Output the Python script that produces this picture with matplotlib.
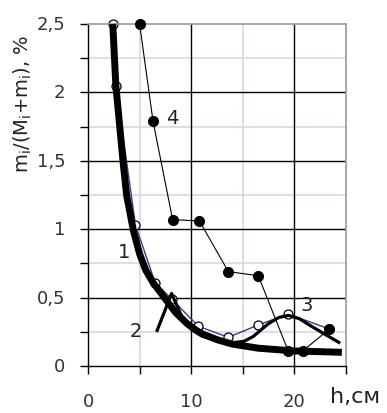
import matplotlib
matplotlib.use("Agg")
import matplotlib.pyplot as plt
from matplotlib.ticker import MultipleLocator

plt.rcParams['font.family'] = ['DejaVu Sans']

# Curve 1 (thick)
c1_x = [2.4, 2.7, 3.1, 3.4, 3.75, 4.4, 5.0, 5.6, 6.3, 7.0, 7.6, 8.5, 9.6, 10.5, 11.2, 12.6, 14.0, 16.5, 20.0, 24.6]
c1_y = [2.5, 2.05, 1.73, 1.49, 1.245, 0.99, 0.82, 0.70, 0.61, 0.54, 0.48, 0.39, 0.31, 0.26, 0.23, 0.19, 0.16, 0.13, 0.11, 0.10]

# Curves 2/3 (medium)
c2_x = [6.7, 8.1, 9.1, 10.0, 11.0, 12.5, 14.0, 15.1, 16.0, 16.7, 17.5, 18.5, 19.45, 20.5, 21.55, 23.0, 24.3]
c2_y = [0.26, 0.53, 0.36, 0.27, 0.22, 0.19, 0.17, 0.18, 0.215, 0.26, 0.31, 0.355, 0.37, 0.345, 0.295, 0.23, 0.173]

# Open-circle series (thin blue line)
o_x = [2.4, 2.7, 4.6, 6.5, 8.1, 10.7, 13.6, 16.5, 19.4, 23.4]
o_y = [2.5, 2.05, 1.03, 0.61, 0.49, 0.29, 0.21, 0.30, 0.38, 0.27]

# Series 4 (filled circles)
s4_x = [5.0, 6.3, 8.2, 10.8, 13.6, 16.5, 19.4, 20.8, 23.4]
s4_y = [2.5, 1.79, 1.07, 1.06, 0.69, 0.66, 0.11, 0.11, 0.27]

x_ticklabels = ['0', '10', '20']
y_ticklabels = ['0', '0,5', '1', '1,5', '2', '2,5']

fig = plt.figure(figsize=(3.87, 4.14), dpi=100)
ax = fig.add_axes([88/387, 1-367/414, (346-88)/387, (367-25)/414])
ax.set_xlim(0, 25)
ax.set_ylim(0, 2.5)

# grid
for v in [5, 15]:
    ax.axvline(v, color='#e2d2e6', lw=1.2, zorder=0)
for v in [0.25, 0.75, 1.25, 1.75, 2.25]:
    ax.axhline(v, color='#e2d2e6', lw=1.2, zorder=0)
for v in [10, 20]:
    ax.axvline(v, color='black', lw=1.0, zorder=0.5)
for v in [0.5, 1.0, 1.5, 2.0]:
    ax.axhline(v, color='black', lw=1.0, zorder=0.5)

for s in ['top', 'right']:
    ax.spines[s].set_color('#9a9a9a')
    ax.spines[s].set_linewidth(1.2)
for s in ['left', 'bottom']:
    ax.spines[s].set_color('black')
    ax.spines[s].set_linewidth(1.0)

ax.xaxis.set_major_locator(MultipleLocator(5))
ax.yaxis.set_major_locator(MultipleLocator(0.25))
ax.set_xticklabels([])
ax.set_yticklabels([])
ax.tick_params(direction='out', length=6, width=1.0, color='black')

for v, t in zip([0, 10, 20], x_ticklabels):
    ax.text(v, -0.255, t, ha='center', va='center', fontsize=13, color='#333333')
for v, t in zip([0, 0.5, 1.0, 1.5, 2.0, 2.5], y_ticklabels):
    ax.text(-2.2, v, t, ha='right', va='center', fontsize=13, color='#333333')

# series
ax.plot(o_x, o_y, color='#3a3a8c', lw=1.0, marker='o', ms=6.5, mfc='white',
        mec='black', mew=0.9, zorder=2, clip_on=False)
ax.plot(c1_x, c1_y, color='black', lw=5.0, solid_capstyle='butt', solid_joinstyle='round',
        zorder=3, clip_on=False)
ax.plot(c2_x, c2_y, color='black', lw=2.3, solid_joinstyle='round', zorder=3.5)
ax.plot(s4_x, s4_y, color='black', lw=0.8, marker='o', ms=7, mfc='black',
        mec='black', zorder=4, clip_on=False)

# curve labels
ax.text(3.5, 0.84, '1', fontsize=14, ha='center', va='center', color='#222222')
ax.text(4.6, 0.26, '2', fontsize=14, ha='center', va='center', color='#222222')
ax.text(21.2, 0.45, '3', fontsize=14, ha='center', va='center', color='#222222')
ax.text(8.2, 1.82, '4', fontsize=14, ha='center', va='center', color='#222222')

fig.text(23/387, 1-104/414, r'm$_\mathregular{i}$/(M$_\mathregular{i}$+m$_\mathregular{i}$), %',
         rotation=90, ha='center', va='center', fontsize=14, color='#222222')
fig.text(355/387, 1-397/414, 'h,см', ha='center', va='center', fontsize=16, color='#222222')

fig.savefig('out.png', dpi=100)
